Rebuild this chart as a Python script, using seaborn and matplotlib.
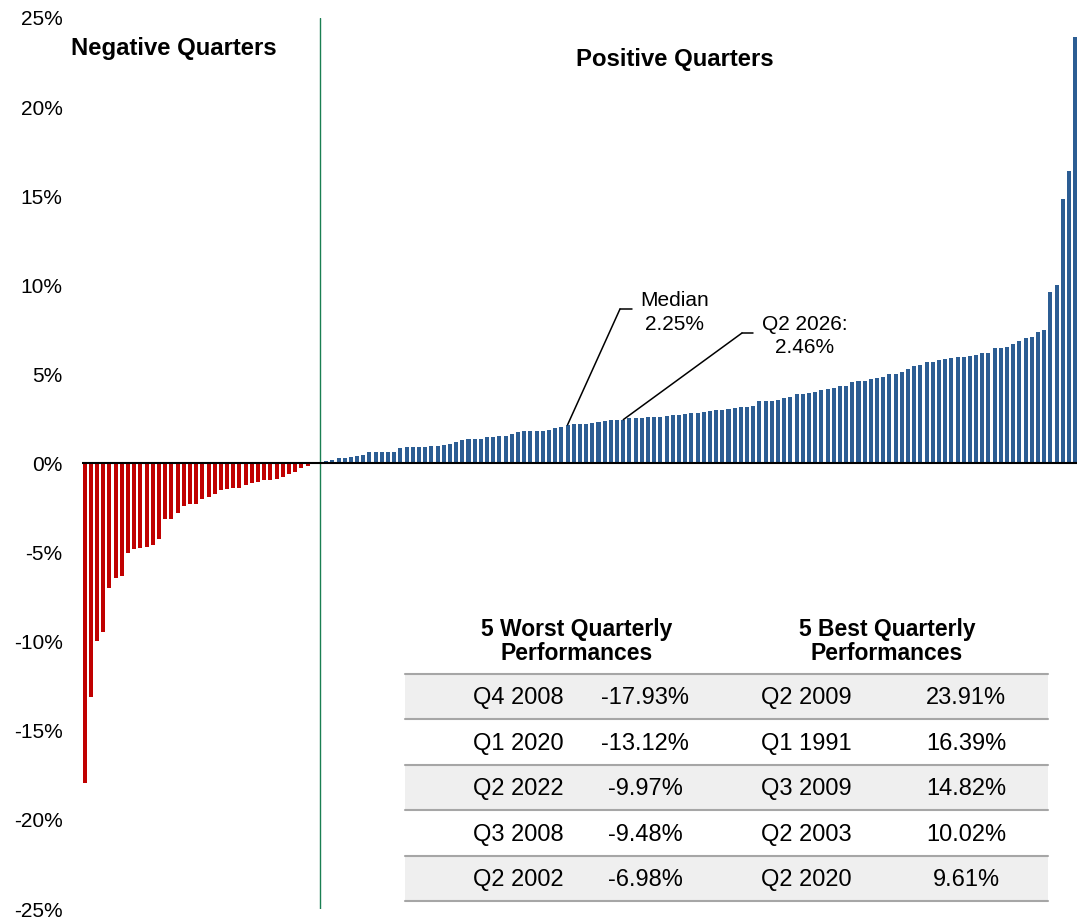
import numpy as np
import pandas as pd
import seaborn as sns
import matplotlib.pyplot as plt
from matplotlib.patches import Rectangle
from matplotlib.lines import Line2D

# sorted quarterly returns (%)
negative_returns = [-17.93, -13.12, -9.97, -9.48, -6.98, -6.4, -6.3, -5.0, -4.8, -4.75,
                    -4.7, -4.6, -4.25, -3.1, -3.1, -2.8, -2.4, -2.3, -2.25, -2.0,
                    -1.9, -1.7, -1.5, -1.45, -1.4, -1.4, -1.2, -1.1, -1.05, -0.95,
                    -0.9, -0.85, -0.75, -0.6, -0.5, -0.25, -0.12, -0.05]
zero_returns = [0.0]
positive_returns = [0.15, 0.2, 0.32, 0.32, 0.39, 0.43, 0.5, 0.62, 0.66, 0.66,
                    0.66, 0.66, 0.88, 0.9, 0.9, 0.94, 0.94, 0.99, 0.99, 1.05,
                    1.07, 1.22, 1.31, 1.35, 1.35, 1.35, 1.5, 1.5, 1.54, 1.54,
                    1.63, 1.74, 1.8, 1.82, 1.84, 1.84, 1.86, 2.02, 2.06, 2.17,
                    2.19, 2.23, 2.23, 2.28, 2.35, 2.38, 2.42, 2.43, 2.46, 2.53,
                    2.55, 2.57, 2.6, 2.6, 2.6, 2.68, 2.7, 2.73, 2.75, 2.85,
                    2.85, 2.87, 2.96, 3.0, 3.03, 3.05, 3.13, 3.18, 3.18, 3.22,
                    3.48, 3.5, 3.5, 3.56, 3.69, 3.73, 3.88, 3.91, 3.95, 3.99,
                    4.12, 4.18, 4.23, 4.33, 4.34, 4.59, 4.61, 4.65, 4.72, 4.81,
                    4.87, 5.0, 5.0, 5.15, 5.28, 5.47, 5.52, 5.67, 5.67, 5.79,
                    5.88, 5.94, 5.97, 5.97, 6.03, 6.07, 6.18, 6.22, 6.46, 6.46,
                    6.54, 6.69, 6.87, 7.02, 7.12, 7.38, 7.47, 9.61, 10.02, 14.82,
                    16.39, 23.91]

median_value = 2.25
current_label = "Q2 2026"
current_value = 2.46

worst_quarters = ["Q4 2008", "Q1 2020", "Q2 2022", "Q3 2008", "Q2 2002"]
worst_values = ["-17.93%", "-13.12%", "-9.97%", "-9.48%", "-6.98%"]
best_quarters = ["Q2 2009", "Q1 1991", "Q3 2009", "Q2 2003", "Q2 2020"]
best_values = ["23.91%", "16.39%", "14.82%", "10.02%", "9.61%"]

y_ticks = [-25, -20, -15, -10, -5, 0, 5, 10, 15, 20, 25]

returns = negative_returns + zero_returns + positive_returns
df = pd.DataFrame({"rank": np.arange(len(returns)), "ret": returns})
df["sign"] = np.where(df["ret"] < 0, "neg", np.where(df["ret"] > 0, "pos", "zero"))

W, H = 1077, 921
sns.set_style("white")
plt.rcParams["font.family"] = ["Liberation Sans", "DejaVu Sans"]
plt.rcParams["text.color"] = "black"
plt.rcParams["ytick.color"] = "black"
plt.rcParams["ytick.labelcolor"] = "black"

fig = plt.figure(figsize=(W / 100, H / 100), dpi=100)
ax = fig.add_axes([82 / W, 1 - 909 / H, (W - 82) / W, (909 - 18) / H])


def fx(px):
    return px / W


def fy(py):
    return 1 - py / H


sns.barplot(data=df, x="rank", y="ret", hue="sign", dodge=False, legend=False,
            palette={"neg": "#c00000", "pos": "#2c5d93", "zero": "#2c5d93"},
            saturation=1, width=0.65, edgecolor="none", linewidth=0, ax=ax)

n_neg = len(negative_returns)
ax.axhline(0, color="black", lw=1.5, zorder=3)
ax.axvline(n_neg, color="#1a7f52", lw=1.0)

ax.set_xlim(-0.44, 160.3)
ax.set_ylim(-25, 25)
ax.set_xticks([])
ax.set_yticks(y_ticks)
ax.set_yticklabels([f"{v}%" for v in y_ticks], fontsize=15, color="black")
ax.tick_params(axis="y", length=0, pad=14)
ax.set_xlabel("")
ax.set_ylabel("")
for s in ax.spines.values():
    s.set_visible(False)

fig.text(fx(174), fy(55), "Negative Quarters", ha="center", va="baseline",
         fontsize=17.2, fontweight="bold")
fig.text(fx(675), fy(66), "Positive Quarters", ha="center", va="baseline",
         fontsize=17.2, fontweight="bold")

# leader lines for median and current quarter
first_pos = n_neg + 1
med_idx = first_pos + 39
cur_idx = first_pos + positive_returns.index(current_value)
for idx, elbow, end in [(med_idx, (620, 309), 632), (cur_idx, (742, 333), 753)]:
    ax.annotate("", xy=(idx, returns[idx]), xycoords="data",
                xytext=(elbow[0], H - elbow[1]), textcoords="figure pixels",
                arrowprops=dict(arrowstyle="-", color="black", lw=1.1,
                                shrinkA=0, shrinkB=0))
    fig.add_artist(Line2D([fx(elbow[0]), fx(end)], [fy(elbow[1]), fy(elbow[1])],
                          color="black", lw=1.1))

fig.text(fx(675), fy(306), "Median", ha="center", va="baseline", fontsize=15)
fig.text(fx(675), fy(329.5), f"{median_value:.2f}%", ha="center", va="baseline", fontsize=15)
fig.text(fx(805), fy(329.5), f"{current_label}:", ha="center", va="baseline", fontsize=15)
fig.text(fx(805), fy(353), f"{current_value:.2f}%", ha="center", va="baseline", fontsize=15)

# table of best / worst quarters
fig.text(fx(577), fy(636), "5 Worst Quarterly", ha="center", va="baseline",
         fontsize=16.5, fontweight="bold")
fig.text(fx(577), fy(660), "Performances", ha="center", va="baseline",
         fontsize=16.5, fontweight="bold")
fig.text(fx(887), fy(636), "5 Best Quarterly", ha="center", va="baseline",
         fontsize=16.5, fontweight="bold")
fig.text(fx(887), fy(660), "Performances", ha="center", va="baseline",
         fontsize=16.5, fontweight="bold")

tab_left, tab_right = 405, 1048
row_top = 673.5
row_h = 45.5
for i in range(5):
    top = row_top + i * row_h
    if i % 2 == 0:
        fig.add_artist(Rectangle((fx(tab_left), fy(top + row_h)), fx(tab_right - tab_left),
                                 row_h / H, facecolor="#efefef", edgecolor="none"))
    base = top + row_h / 2 + 8
    fig.text(fx(518), fy(base), worst_quarters[i], ha="center", va="baseline", fontsize=17)
    fig.text(fx(645), fy(base), worst_values[i], ha="center", va="baseline", fontsize=17)
    fig.text(fx(806), fy(base), best_quarters[i], ha="center", va="baseline", fontsize=17)
    fig.text(fx(966), fy(base), best_values[i], ha="center", va="baseline", fontsize=17)
for i in range(6):
    y = row_top + i * row_h
    fig.add_artist(Line2D([fx(tab_left), fx(tab_right)], [fy(y), fy(y)],
                          color="#a6a6a6", lw=1.5))

fig.savefig("out.png", dpi=100)
